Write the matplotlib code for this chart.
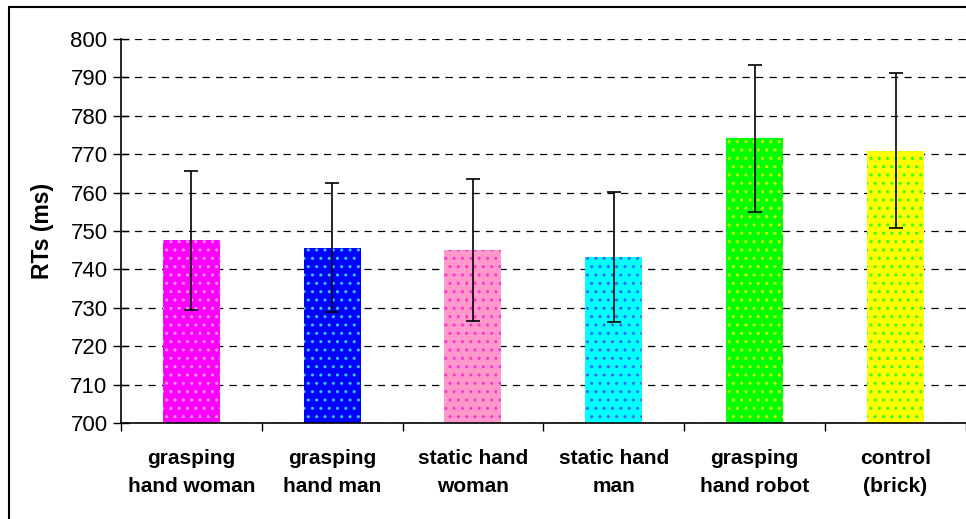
import matplotlib.pyplot as plt
from matplotlib.patches import Rectangle
import numpy as np

plt.rcParams['font.family'] = ['Liberation Sans', 'DejaVu Sans']

conditions = ["grasping\nhand woman", "grasping\nhand man", "static hand\nwoman",
              "static hand\nman", "grasping\nhand robot", "control\n(brick)"]
mean_rt = [747.6, 745.6, 745.0, 743.2, 774.3, 770.9]
err_low = [729.3, 728.8, 726.6, 726.2, 754.9, 750.7]
err_high = [765.7, 762.5, 763.6, 760.1, 793.1, 791.1]
fill_colors = ["#ff00ff", "#0000ff", "#ff99cc", "#00ffff", "#00ff00", "#ffff00"]
dot_colors = ["#ff99ff", "#33ccff", "#ff33cc", "#3366ff", "#ccff00", "#33ff00"]
y_ticks = list(range(700, 801, 10))

fig = plt.figure(figsize=(9.66, 5.19), dpi=100)
ax = fig.add_axes([0.125, 0.185, 0.875, 0.7399])

x = np.arange(len(conditions))
mean = np.array(mean_rt)
yerr = [mean - np.array(err_low), np.array(err_high) - mean]

for i in range(len(conditions)):
    ax.bar(x[i], mean[i] - 700, bottom=700, width=0.405, color=fill_colors[i],
           edgecolor=dot_colors[i], linewidth=0, hatch='..', zorder=2)
ax.errorbar(x, mean, yerr=yerr, fmt='none', ecolor='black', elinewidth=1.2,
            capsize=5, capthick=1.2, zorder=3)

ax.set_xlim(-0.5, len(conditions) - 0.5)
ax.set_ylim(700, 800)
ax.set_yticks(y_ticks)
ax.yaxis.grid(True, color='black', linestyle=(0, (5.8, 5.0)), linewidth=0.9, zorder=1)
ax.set_axisbelow(True)

ax.set_xticks(x)
ax.set_xticklabels(conditions, fontsize=15, fontweight='bold', linespacing=1.6)
ax.set_xticks(np.arange(-0.5, len(conditions)), minor=True)
ax.tick_params(axis='x', which='major', length=0, pad=19)
ax.tick_params(axis='x', which='minor', length=6, width=1, direction='out')
ax.tick_params(axis='y', labelsize=16, length=11, width=1, direction='inout', pad=4)

ax.set_ylabel("RTs (ms)", fontsize=16.5, fontweight='bold', labelpad=12)

for side in ['top', 'right']:
    ax.spines[side].set_visible(False)
for side in ['left', 'bottom']:
    ax.spines[side].set_linewidth(1.2)

# outer chart frame
fig.patches.append(Rectangle((8.5 / 966, -0.1), 1.2, 1.1 - 7 / 519,
                             transform=fig.transFigure, fill=False,
                             edgecolor='black', linewidth=1.5))

fig.savefig("out.png", dpi=100)
